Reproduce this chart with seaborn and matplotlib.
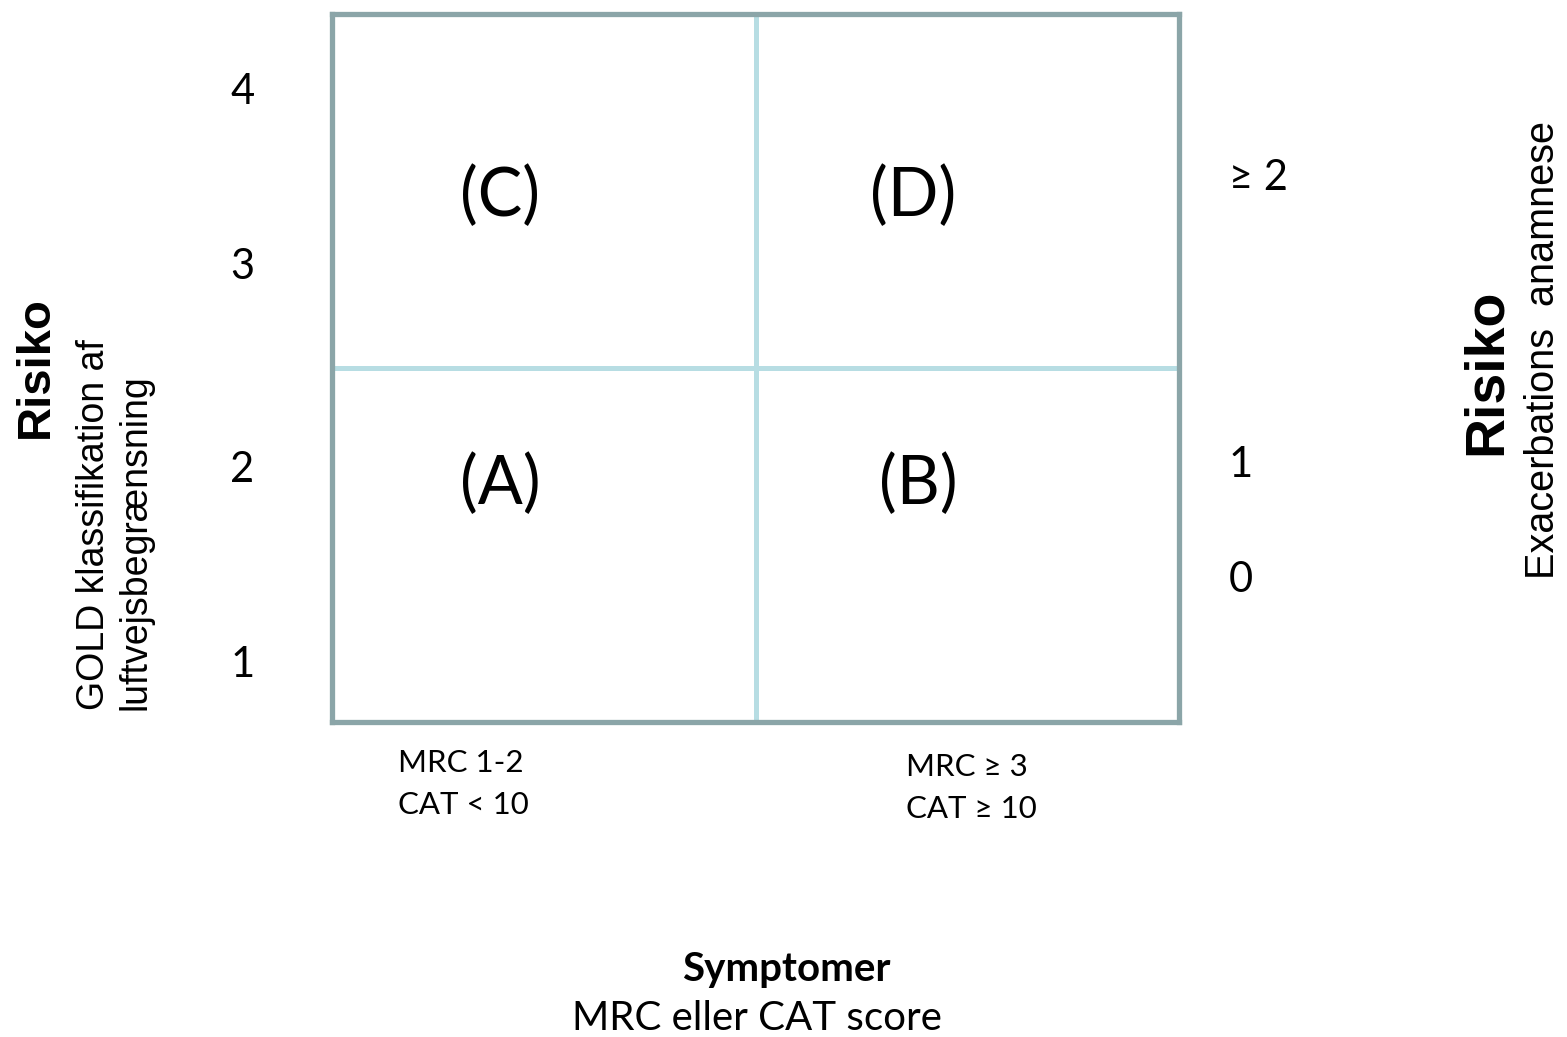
import numpy as np
import matplotlib
matplotlib.use("Agg")
import matplotlib.pyplot as plt
import seaborn as sns
from matplotlib.colors import ListedColormap

# %% Data
quadrant_labels = [["(C)", "(D)"],
                   ["(A)", "(B)"]]
gold_labels = ["4", "3", "2", "1"]
gold_pos = [0.22, 0.715, 1.288, 1.839]
exac_labels = ["\u2265 2", "1", "0"]
exac_pos = [0.463, 1.274, 1.599]
symptom_left = ["MRC 1-2", "CAT < 10"]
symptom_right = ["MRC \u2265 3", "CAT \u2265 10"]

# %% Plot
sns.set_style("white")
plt.rcParams['font.family'] = ['Lato', 'DejaVu Sans']
plt.rcParams['text.color'] = 'black'

W, H = 1567, 1037
fig = plt.figure(figsize=(W / 100, H / 100), dpi=100)
ax = fig.add_axes([332 / W, 1 - 722 / H, (1179 - 332) / W, (722 - 14) / H])

celler = np.zeros((2, 2))
sns.heatmap(celler, cmap=ListedColormap(["white"]), cbar=False,
            linewidths=2.5, linecolor="#B7DDE3", ax=ax,
            xticklabels=False, yticklabels=False)
for s in ax.spines.values():
    s.set_visible(True)
    s.set_color("#8BA5A8")
    s.set_linewidth(3.8)

# etiquetas de cuadrantes
qx = [[0.397, 1.372], [0.397, 1.384]]
qy = [0.517, 1.33]
for i in range(2):
    for j in range(2):
        ax.text(qx[i][j], qy[i], quadrant_labels[i][j], fontsize=48,
                ha="center", va="center")

# GOLD a la izquierda
for lab, y in zip(gold_labels, gold_pos):
    ax.text(-0.212, y, lab, fontsize=30, ha="center", va="center", clip_on=False)

# exacerbaciones a la derecha
for lab, y in zip(exac_labels, exac_pos):
    ax.text(2.118, y, lab, fontsize=30, ha="left", va="center", clip_on=False)

# grupos de sintomas debajo
for k, lab in enumerate(symptom_left):
    ax.text(0.156, 2.116 + 0.118 * k, lab, fontsize=22.5, ha="left", va="center", clip_on=False)
for k, lab in enumerate(symptom_right):
    ax.text(1.355, 2.127 + 0.119 * k, lab, fontsize=22.5, ha="left", va="center", clip_on=False)

def px(x, y):
    return x / W, 1 - y / H

fig.text(*px(786, 970), "Symptomer", fontsize=29, fontweight="bold", ha="center", va="center")
fig.text(*px(757, 1018), "MRC eller CAT score", fontsize=29, ha="center", va="center")

arial = ["Liberation Sans", "DejaVu Sans"]
fig.text(*px(36, 367), "Risiko", fontsize=34, fontweight="bold", family=arial,
         rotation=90, ha="center", va="center")
fig.text(*px(94, 710), "GOLD klassifikation af", fontsize=27, family=arial,
         rotation=90, ha="center", va="bottom")
fig.text(*px(136, 710), "luftvejsbegr\u00e6nsning", fontsize=27, family=arial,
         rotation=90, ha="center", va="bottom")

fig.text(*px(1487, 372), "Risiko", fontsize=40, fontweight="bold", family=arial,
         rotation=90, ha="center", va="center")
fig.text(*px(1543, 350), "Exacerbations  anamnese", fontsize=28.5, family=arial,
         rotation=90, ha="center", va="center")

fig.savefig("out.png", dpi=100, facecolor="white")
